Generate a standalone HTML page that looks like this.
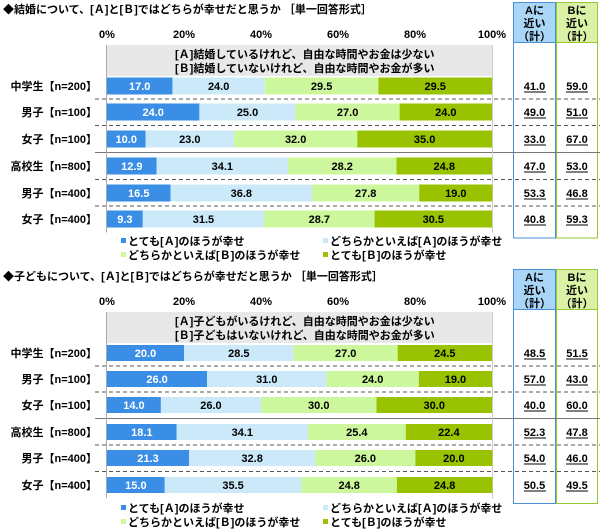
<!DOCTYPE html>
<html><head><meta charset="utf-8"><style>
body{margin:0;background:#fff;}
svg{display:block;font-family:"Liberation Sans","Noto Sans CJK JP",sans-serif;font-weight:bold;}
</style></head><body>
<svg id="chart" width="600" height="532" viewBox="0 0 600 532"></svg>
<script>
const categories = ["中学生【n=200】","男子【n=100】","女子【n=100】","高校生【n=800】","男子【n=400】","女子【n=400】"];
const p1VeryA = [17.0,24.0,10.0,12.9,16.5,9.3];
const p1RatherA = [24.0,25.0,23.0,34.1,36.8,31.5];
const p1RatherB = [29.5,27.0,32.0,28.2,27.8,28.7];
const p1VeryB = [29.5,24.0,35.0,24.8,19.0,30.5];
const p1SumA = ["41.0","49.0","33.0","47.0","53.3","40.8"];
const p1SumB = ["59.0","51.0","67.0","53.0","46.8","59.3"];
const p2VeryA = [20.0,26.0,14.0,18.1,21.3,15.0];
const p2RatherA = [28.5,31.0,26.0,34.1,32.8,35.5];
const p2RatherB = [27.0,24.0,30.0,25.4,26.0,24.8];
const p2VeryB = [24.5,19.0,30.0,22.4,20.0,24.8];
const p2SumA = ["48.5","57.0","40.0","52.3","54.0","50.5"];
const p2SumB = ["51.5","43.0","60.0","47.8","46.0","49.5"];
const tickLabels = ["0%","20%","40%","60%","80%","100%"];
const tickValues = [0,20,40,60,80,100];
const legendLabels = ["とても[Ａ]のほうが幸せ","どちらかといえば[Ａ]のほうが幸せ","どちらかといえば[Ｂ]のほうが幸せ","とても[Ｂ]のほうが幸せ"];

const colors = ["#3a8ee6","#cce9fa","#ccf79c","#99c300"];
const textCol = ["#fff","#000","#000","#000"];
const X0 = 107, X1 = 492;
const xs = v => X0 + (X1 - X0) * v / 100;
const svg = document.getElementById('chart');
const NS = "http://www.w3.org/2000/svg";
function mk(tag, attrs, text){ const e=document.createElementNS(NS,tag); for(const k in attrs) e.setAttribute(k,attrs[k]); if(text!==undefined) e.textContent=text; svg.appendChild(e); return e; }

function panel(p, off, title, boxA, boxB, series, sumA, sumB, rows, barH){
  let t = mk('text',{x:3,y:off+13,'font-size':11,fill:'#000'},title);
   
  tickValues.forEach((v,i)=>{
    const tt = mk('text',{x:xs(v),y:off+38,'font-size':11,'text-anchor':'middle',fill:'#000'},tickLabels[i]);
     
  });
  const hdrA = mk('rect',{x:513.5,y:off+2.5,width:42,height:40,fill:'#a9d5f7',stroke:'#4a8fd8'});
   
  const hdrB = mk('rect',{x:556.5,y:off+2.5,width:41,height:40,fill:'#daf2a6',stroke:'#99c633'});
   
  mk('rect',{x:513.5,y:off+42.5,width:42,height:rows[5]-off+barH/2+10-42,fill:'#fff',stroke:'#4a8fd8'});
  mk('rect',{x:556.5,y:off+42.5,width:41,height:rows[5]-off+barH/2+10-42,fill:'#fff',stroke:'#99c633'});
  [["Aに","近い","（計）",534.5],["Bに","近い","（計）",577]].forEach(h=>{
    mk('text',{x:h[3],y:off+14,'font-size':11,'text-anchor':'middle'},h[0]);
    mk('text',{x:h[3],y:off+27,'font-size':11,'text-anchor':'middle'},h[1]);
    mk('text',{x:h[3],y:off+40,'font-size':11,'text-anchor':'middle'},h[2]);
  });
  const gb = mk('rect',{x:X0,y:off+45,width:X1-X0,height:31,fill:'#e8e8e8'});
   
  mk('text',{x:175,y:off+58,'font-size':11},boxA);
  mk('text',{x:175,y:off+72,'font-size':11},boxB);
  for(let i=0;i<5;i++){
    const y = (rows[i]+rows[i+1])/2;
    if(i===2) mk('line',{x1:95,x2:600,y1:y,y2:y,stroke:'#777','stroke-width':1});
    else mk('line',{x1:95,x2:600,y1:y,y2:y,stroke:'#555','stroke-width':1,'stroke-dasharray':'4,3'});
  }
  mk('line',{x1:X0-0.5,x2:X0-0.5,y1:off+45,y2:rows[5]+barH/2+5,stroke:'#aaa'});
  mk('line',{x1:X1+0.5,x2:X1+0.5,y1:off+45,y2:rows[5]+barH/2+5,stroke:'#ccc'});
  categories.forEach((c,i)=>{
    const cy = rows[i];
    const lb = mk('text',{x:97,y:cy+4,'font-size':11,'text-anchor':'end'},c);
     
    let acc = 0;
    series.forEach((s,k)=>{
      const v = s[i];
      const r = mk('rect',{x:xs(acc),y:cy-barH/2,width:xs(acc+v)-xs(acc),height:barH,fill:colors[k]});
       
      const tv = mk('text',{x:(xs(acc)+xs(acc+v))/2,y:cy+4,'font-size':11,'text-anchor':'middle',fill:textCol[k]},v.toFixed(1));
       
      acc += v;
    });
    const sa = mk('text',{x:534.5,y:cy+4,'font-size':11,'text-anchor':'middle'},sumA[i]);
     
    mk('line',{x1:524,x2:546,y1:cy+6,y2:cy+6,stroke:'#000'});
    const sb = mk('text',{x:577,y:cy+4,'font-size':11,'text-anchor':'middle'},sumB[i]);
     
    mk('line',{x1:566,x2:588,y1:cy+6,y2:cy+6,stroke:'#000'});
  });
  const ly = [off+245, off+245, off+259, off+259];
  const lx = [128, 330, 128, 330];
  legendLabels.forEach((l,k)=>{
    const g = mk('rect',{x:lx[k]-7,y:ly[k]-7,width:5,height:5,fill:colors[k]});
     
    const lt = mk('text',{x:lx[k],y:ly[k],'font-size':11},l);
     
  });
}
panel('marriage',0,'◆結婚について、[Ａ]と[Ｂ]ではどちらが幸せだと思うか ［単一回答形式］',
 '[Ａ]結婚しているけれど、自由な時間やお金は少ない','[Ｂ]結婚していないけれど、自由な時間やお金が多い',
 [p1VeryA,p1RatherA,p1RatherB,p1VeryB],p1SumA,p1SumB,[86,112,139,166,193,219],17);
panel('children',267,'◆子どもについて、[Ａ]と[Ｂ]ではどちらが幸せだと思うか ［単一回答形式］',
 '[Ａ]子どもがいるけれど、自由な時間やお金は少ない','[Ｂ]子どもはいないけれど、自由な時間やお金が多い',
 [p2VeryA,p2RatherA,p2RatherB,p2VeryB],p2SumA,p2SumB,[353,379,405,432,458,485],16);
</script>
</body></html>
